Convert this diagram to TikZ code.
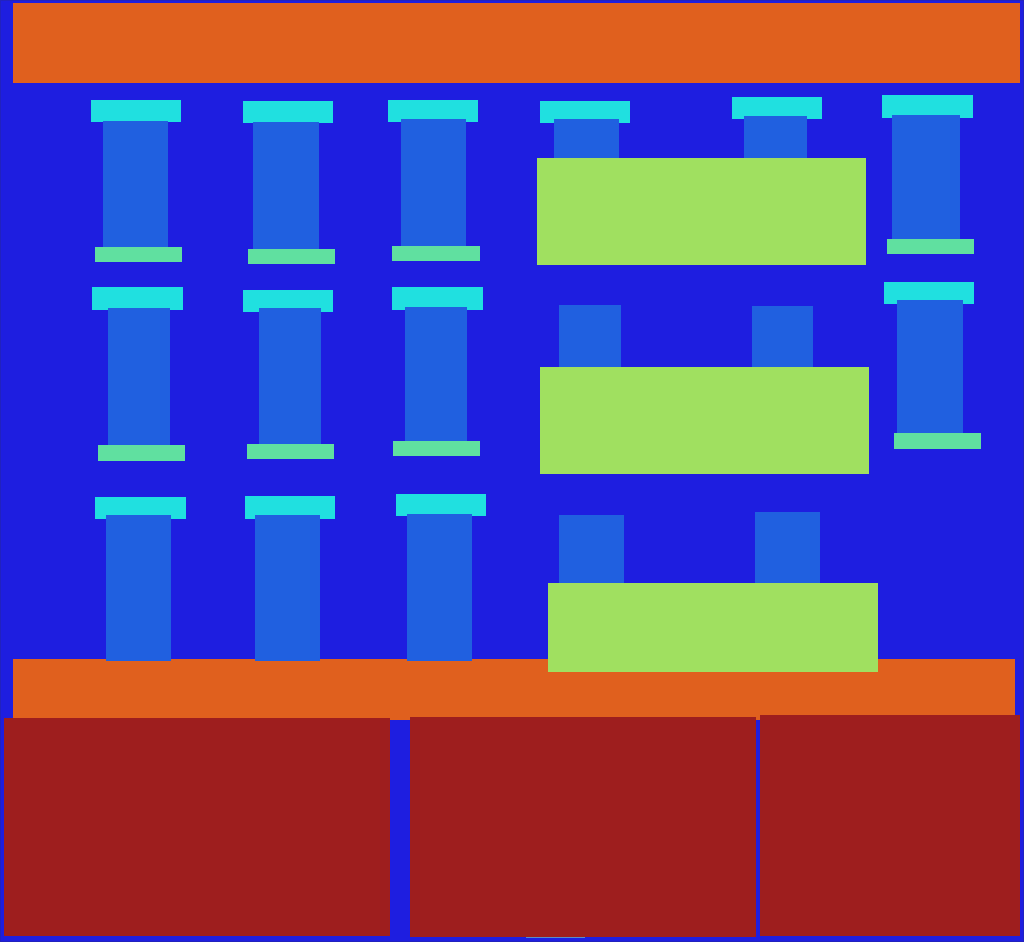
\documentclass[tikz,border=0pt]{standalone}
\definecolor{bg}{RGB}{30,30,224}
\definecolor{bgedge}{RGB}{34,34,190}
\definecolor{orng}{RGB}{224,96,30}
\definecolor{capc}{RGB}{32,224,224}
\definecolor{bodyc}{RGB}{32,96,224}
\definecolor{basec}{RGB}{96,224,160}
\definecolor{slab}{RGB}{160,224,96}
\definecolor{redc}{RGB}{158,30,30}
\definecolor{linec}{RGB}{90,140,200}
\tikzset{
  blk/.style={fill=#1, draw=none},
}
\newcommand{\rc}[5]{\fill[blk=#5] (#1,#2) rectangle (#3,#4);}
\begin{document}
\begin{tikzpicture}[x=1pt,y=-1pt]
\useasboundingbox (0,0) rectangle (1024,942);
\fill[bg] (0,0) rectangle (1024,942);
\draw[bgedge, line width=1pt] (0.5,0.5) rectangle (1023.5,941.5);
% top and bottom bands
\rc{13}{3}{1020}{83}{orng}
\rc{13}{659}{1015}{720}{orng}
% bottom blocks
\rc{4}{718}{390}{936}{redc}
\rc{410}{717}{756}{937}{redc}
\rc{760}{715}{1020}{936}{redc}
\draw[linec, line width=1pt] (526,937.5) -- (585,937.5);
% row 1
\rc{91}{100}{181}{122}{capc}\rc{103}{121}{168}{247}{bodyc}\rc{95}{247}{182}{262}{basec}
\rc{243}{101}{333}{123}{capc}\rc{253}{122}{319}{249}{bodyc}\rc{248}{249}{335}{264}{basec}
\rc{388}{100}{478}{122}{capc}\rc{401}{119}{466}{246}{bodyc}\rc{392}{246}{480}{261}{basec}
\rc{540}{101}{630}{123}{capc}\rc{554}{119}{619}{160}{bodyc}
\rc{732}{97}{822}{119}{capc}\rc{744}{116}{807}{160}{bodyc}
\rc{882}{95}{973}{118}{capc}\rc{892}{115}{960}{239}{bodyc}\rc{887}{239}{974}{254}{basec}
\rc{537}{158}{866}{265}{slab}
% row 2
\rc{92}{287}{183}{310}{capc}\rc{108}{308}{170}{445}{bodyc}\rc{98}{445}{185}{461}{basec}
\rc{243}{290}{333}{312}{capc}\rc{259}{308}{321}{444}{bodyc}\rc{247}{444}{334}{459}{basec}
\rc{392}{287}{483}{310}{capc}\rc{405}{307}{467}{441}{bodyc}\rc{393}{441}{480}{456}{basec}
\rc{559}{305}{621}{369}{bodyc}
\rc{752}{306}{813}{369}{bodyc}
\rc{884}{282}{974}{304}{capc}\rc{897}{300}{963}{433}{bodyc}\rc{894}{433}{981}{449}{basec}
\rc{540}{367}{869}{474}{slab}
% row 3
\rc{95}{497}{186}{519}{capc}\rc{106}{515}{171}{661}{bodyc}
\rc{245}{496}{335}{519}{capc}\rc{255}{515}{320}{661}{bodyc}
\rc{396}{494}{486}{516}{capc}\rc{407}{514}{472}{661}{bodyc}
\rc{559}{515}{624}{585}{bodyc}
\rc{755}{512}{820}{585}{bodyc}
\rc{548}{583}{878}{672}{slab}
\end{tikzpicture}
\end{document}
